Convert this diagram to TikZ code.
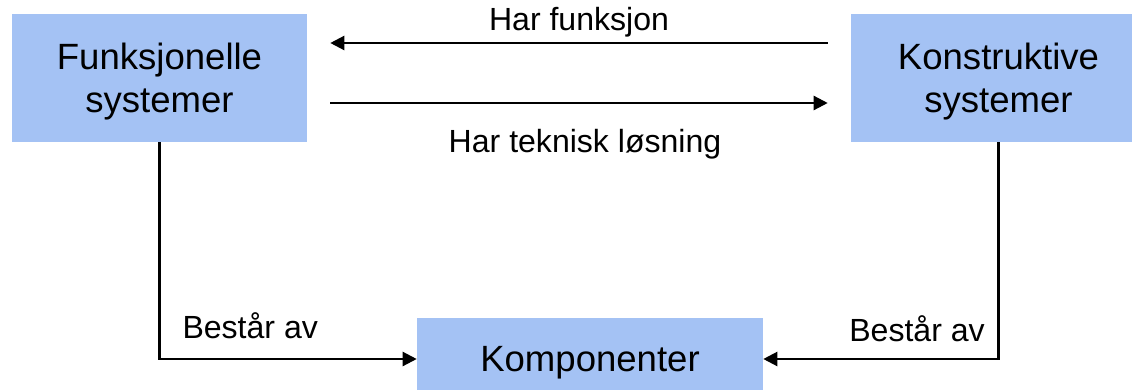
\documentclass[tikz,border=0pt]{standalone}
\usepackage{fontspec}
\setmainfont{Liberation Sans}
\usepackage{xcolor}
\usetikzlibrary{arrows.meta,positioning}
\definecolor{boxblue}{RGB}{164,194,244}

\begin{document}
\begin{tikzpicture}[
    sysbox/.style={fill=boxblue,draw=none,align=center,text depth=0pt,font=\fontsize{26}{30.8}\selectfont},
    flow/.style={-{Triangle[length=10pt,width=10pt]},line width=1.6pt},
    lbl/.style={font=\fontsize{22.8}{27}\selectfont}]
                \useasboundingbox (0,0) rectangle (28.3,9.725);
                % Systems
                \node[sysbox,minimum width=7.375cm,minimum height=3.2cm] (funk) at (3.9875,7.775) {Funksjonelle\\systemer};
                \node[sysbox,minimum width=7.375cm,minimum height=3.2cm] (konst) at (24.9625,7.775) {Konstruktive\\systemer};
                \node[sysbox,minimum width=8.65cm,minimum height=2.05cm] (komp) at (14.75,0.75) {Komponenter};
                % Arrows between the systems
                \draw[flow] ([xshift=-5.75mm,yshift=8.75mm]konst.west) -- ([xshift=5.75mm,yshift=8.75mm]funk.east)
                    node[lbl,midway,above] {Har funksjon};
                \draw[flow] ([xshift=5.75mm,yshift=-6.25mm]funk.east) -- ([xshift=-5.75mm,yshift=-6.25mm]konst.west)
                    node[lbl,midway,below=5mm,xshift=1.5mm] {Har teknisk løsning};
                % Down to the components
                \draw[flow] (funk.south) |- (komp.west)
                    node[lbl,pos=0.5,above right,xshift=4.3mm,yshift=3.5mm] {Består av};
                \draw[flow] (konst.south) |- (komp.east)
                    node[lbl,pos=0.5,above left,xshift=-2mm,yshift=2.8mm] {Består av};
            \end{tikzpicture}
\end{document}
